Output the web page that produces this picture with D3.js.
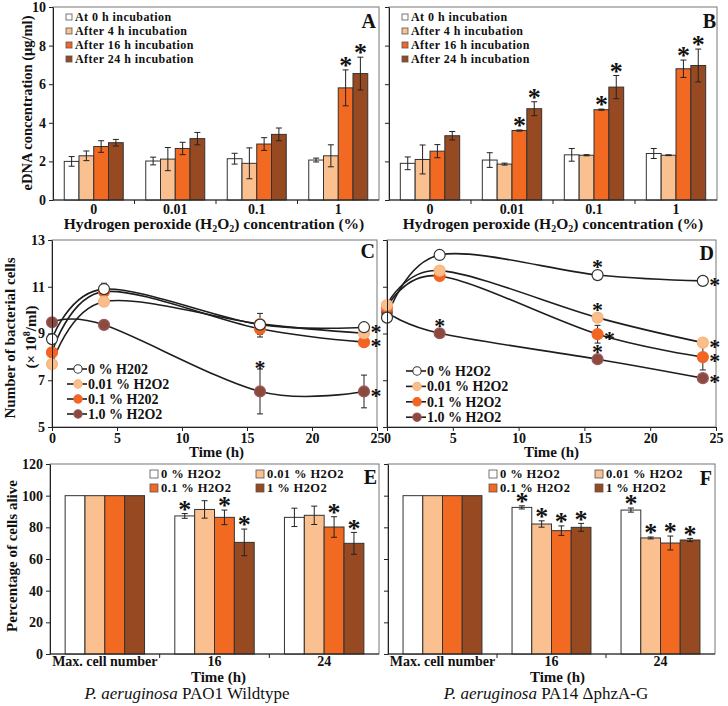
<!DOCTYPE html>
<html><head><meta charset="utf-8">
<script src="https://cdn.jsdelivr.net/npm/d3@7"></script>
<style>
body{margin:0;background:#fff}
svg{display:block}
text{font-family:"Liberation Serif","Times New Roman",serif;font-weight:bold;fill:#111}
</style>
</head><body>
<svg id="c" width="728" height="706"></svg>
<script>
// ---------- DATA ----------
const concCategories = ["0", "0.01", "0.1", "1"];
const incubationSeries = ["At 0 h incubation", "After 4 h incubation", "After 16 h incubation", "After 24 h incubation"];
// Panel A (PAO1) eDNA, rows = incubation series, cols = H2O2 concentration
const eDNA_A = [[2.0, 2.02, 2.14, 2.07], [2.29, 2.12, 1.9, 2.29], [2.77, 2.67, 2.9, 5.81], [2.97, 3.18, 3.4, 6.55]];
const eDNA_A_err = [[0.25, 0.2, 0.28, 0.1], [0.25, 0.6, 0.8, 0.57], [0.3, 0.32, 0.33, 0.93], [0.17, 0.32, 0.33, 0.85]];
const eDNA_A_stars = [[2, 3], [3, 3]];
// Panel B (PA14 ΔphzA-G) eDNA
const eDNA_B = [[1.9, 2.07, 2.34, 2.41], [2.1, 1.86, 2.32, 2.32], [2.53, 3.6, 4.68, 6.8], [3.33, 4.73, 5.85, 6.97]];
const eDNA_B_err = [[0.33, 0.38, 0.33, 0.26], [0.75, 0.05, 0.03, 0.02], [0.34, 0.03, 0.03, 0.45], [0.22, 0.36, 0.6, 0.85]];
const eDNA_B_stars = [[2, 1], [3, 1], [2, 2], [3, 2], [2, 3], [3, 3]];
const eDNA_ticks = [0, 2, 4, 6, 8, 10];

const timePoints = [0, 4, 16, 24];
const growthSeriesC = ["0 % H202", "0.01 % H2O2", "0.1 % H202", "1.0 % H2O2"];
const growthSeriesD = ["0 % H2O2", "0.01 % H2O2", "0.1 % H2O2", "1.0 % H2O2"];
// Panel C (PAO1) cell number ×10^8/ml
const cells_C = [[8.76, 10.9, 9.38, 9.27], [7.69, 10.36, 9.41, 9.01], [8.19, 10.79, 9.2, 8.63], [9.48, 9.37, 6.52, 6.52]];
const cells_C_err = [[0, 0.25, 0, 0], [0, 0.15, 0.45, 0], [0, 0, 0.35, 0], [0, 0, 0.96, 0.7]];
const cells_C_starsAbove = [[3, 2]];
const cells_C_starsRight = [[0, 3], [2, 3], [3, 3]];
// Panel D (PA14 ΔphzA-G)
const cells_D = [[9.68, 12.36, 11.5, 11.25], [10.22, 11.69, 9.68, 8.61], [10.11, 11.46, 8.97, 7.99], [9.9, 9.01, 7.9, 7.09]];
const cells_D_err = [[0, 0, 0, 0], [0, 0, 0, 0], [0, 0, 0.38, 0.55], [0, 0, 0, 0]];
const cells_D_starsAbove = [[3, 1], [0, 2], [1, 2], [3, 2]];
const cells_D_starsRight = [[2, 2], [0, 3], [1, 3], [2, 3], [3, 3]];
const timeTicks = [0, 5, 10, 15, 20, 25];
const cellTicks = [5, 7, 9, 11, 13];

const survivalCategories = ["Max. cell number", "16", "24"];
const survivalSeries = ["0 % H2O2", "0.01 % H2O2", "0.1 % H2O2", "1 % H2O2"];
// Panel E (PAO1 wildtype) % alive
const alive_E = [[100, 87.2, 86.3], [100, 91.3, 87.6], [100, 86.3, 80.2], [100, 70.5, 69.9]];
const alive_E_err = [[0, 1.5, 5.8], [0, 5.5, 5.8], [0, 4.6, 6.5], [0, 8.4, 6.9]];
const alive_E_stars = [[0, 1], [2, 1], [3, 1], [2, 2], [3, 2]];
// Panel F (PA14 ΔphzA-G)
const alive_F = [[100, 92.6, 90.9], [100, 82.1, 73.3], [100, 77.9, 70.1], [100, 80.0, 72.0]];
const alive_F_err = [[0, 1.0, 1.3], [0, 2.0, 0.6], [0, 3.0, 4.4], [0, 2.5, 1.0]];
const alive_F_stars = [[0, 1], [1, 1], [2, 1], [3, 1], [0, 2], [1, 2], [2, 2], [3, 2]];
const aliveTicks = [0, 20, 40, 60, 80, 100, 120];

// ---------- STYLE ----------
const barColors = ["#FFFFFF", "#FAC08F", "#F26A22", "#974A22"];
const markerFill = ["#FFFFFF", "#F9BE8A", "#F26522", "#8C4A3E"];
const markerStroke = ["#333333", "#F6B47F", "#F26522", "#9A5A60"];

const svg = d3.select("#c");

function star(g, cx, cy, fs) {
  fs = fs || 26;
  g.append("text").attr("x", cx).attr("y", cy + 0.47 * fs)
    .attr("text-anchor", "middle").style("font-size", fs + "px").text("*");
}

function styleAxis(sel, fs) {
  sel.select(".domain").attr("stroke", "#222");
  sel.selectAll(".tick line").attr("stroke", "#222");
  sel.selectAll(".tick text").style("font-family", '"Liberation Serif",serif')
    .style("font-weight", "bold").style("font-size", fs + "px").attr("fill", "#111");
}

function frame(g, o) {
  g.append("rect").attr("x", o.left).attr("y", o.top)
    .attr("width", o.right - o.left).attr("height", o.bottom - o.top)
    .attr("fill", "none").attr("stroke", "#777").attr("stroke-width", 1);
}

function letter(g, txt, x, y) {
  g.append("text").attr("x", x).attr("y", y).attr("text-anchor", "end")
    .style("font-size", "20px").text(txt);
}

function barPanel(o) {
  const g = svg.append("g");
  frame(g, o);
  const x = d3.scaleBand().domain(o.cats).range([o.left, o.right]);
  const bw = x.bandwidth();
  const xs = d3.scaleBand().domain(d3.range(o.series.length)).range([bw * 0.138, bw * 0.862]);
  const y = d3.scaleLinear().domain(o.yDomain).range([o.bottom, o.top]);
  const data = [];
  o.values.forEach((vals, s) => vals.forEach((v, c) => data.push({ s, c, v, e: o.errors[s][c] })));
  g.selectAll("rect.bar").data(data).join("rect").attr("class", "bar")
    .attr("x", d => x(o.cats[d.c]) + xs(d.s)).attr("y", d => y(d.v))
    .attr("width", xs.bandwidth()).attr("height", d => y(o.yDomain[0]) - y(d.v))
    .attr("fill", d => barColors[d.s]).attr("stroke", "#333").attr("stroke-width", 1);
  const cxOf = d => x(o.cats[d.c]) + xs(d.s) + xs.bandwidth() / 2;
  const eb = data.filter(d => d.e > 0);
  const eg = g.append("g").attr("stroke", "#222").attr("stroke-width", 1);
  eg.selectAll("line.v").data(eb).join("line")
    .attr("x1", cxOf).attr("x2", cxOf).attr("y1", d => y(d.v - d.e)).attr("y2", d => y(d.v + d.e));
  eg.selectAll("line.t").data(eb.flatMap(d => [d.v - d.e, d.v + d.e].map(val => ({ d, val })))).join("line")
    .attr("x1", q => cxOf(q.d) - 3).attr("x2", q => cxOf(q.d) + 3)
    .attr("y1", q => y(q.val)).attr("y2", q => y(q.val));
  o.stars.forEach(([s, c]) => {
    const d = data.find(q => q.s === s && q.c === c);
    star(g, cxOf(d), y(d.v + d.e) - 8, o.starSize);
  });
  // axes
  const ya = g.append("g").attr("transform", `translate(${o.left},0)`)
    .call(d3.axisLeft(y).tickValues(o.yTicks).tickSize(4).tickSizeOuter(0).tickPadding(3)
      .tickFormat(o.yLabels ? d3.format("d") : ""));
  styleAxis(ya, 14);
  g.append("line").attr("x1", o.left).attr("x2", o.right).attr("y1", o.bottom).attr("y2", o.bottom).attr("stroke", "#222");
  g.selectAll("line.xt").data(o.cats.slice(1)).join("line")
    .attr("x1", c => x(c)).attr("x2", c => x(c)).attr("y1", o.bottom).attr("y2", o.bottom + 4).attr("stroke", "#222");
  g.selectAll("text.xl").data(o.cats).join("text")
    .attr("x", c => x(c) + bw / 2).attr("y", o.xLabelY).attr("text-anchor", "middle")
    .style("font-size", o.xLabelFs + "px").text(c => c);
  // legend
  o.series.forEach((name, s) => {
    const lx = o.legend.x + (o.legend.cols === 2 ? (s % 2) * o.legend.colDx : 0);
    const ly = o.legend.y + (o.legend.cols === 2 ? Math.floor(s / 2) : s) * o.legend.dy;
    g.append("rect").attr("x", lx).attr("y", ly - o.legend.sq / 2).attr("width", o.legend.sq).attr("height", o.legend.sq)
      .attr("fill", barColors[s]).attr("stroke", "#555").attr("stroke-width", 0.8);
    g.append("text").attr("x", lx + o.legend.sq + 3).attr("y", ly + o.legend.fs * 0.35)
      .style("font-size", o.legend.fs + "px").style("letter-spacing", o.legend.ls + "px").text(name);
  });
  return { g, x, y };
}

function linePanel(o) {
  const g = svg.append("g");
  frame(g, o);
  const x = d3.scaleLinear().domain([0, 25]).range([o.left, o.right]);
  const y = d3.scaleLinear().domain([5, 13]).range([o.bottom, o.top]);
  const line = d3.line().x(d => x(d.t)).y(d => y(d.v)).curve(d3.curveCardinal.tension(0));
  const series = o.values.map((vals, s) => vals.map((v, i) => ({ s, t: timePoints[i], v, e: o.errors[s][i] })));
  series.slice().reverse().forEach(pts => {
    g.append("path").attr("d", line(pts)).attr("fill", "none").attr("stroke", "#1e1e1e").attr("stroke-width", 1.6);
  });
  const all = series.flat();
  const eb = all.filter(d => d.e > 0);
  const eg = g.append("g").attr("stroke", "#222").attr("stroke-width", 1);
  eg.selectAll("line.v").data(eb).join("line")
    .attr("x1", d => x(d.t)).attr("x2", d => x(d.t)).attr("y1", d => y(d.v - d.e)).attr("y2", d => y(d.v + d.e));
  eg.selectAll("line.c").data(eb.flatMap(d => [d.v - d.e, d.v + d.e].map(val => ({ d, val })))).join("line")
    .attr("x1", q => x(q.d.t) - 3).attr("x2", q => x(q.d.t) + 3).attr("y1", q => y(q.val)).attr("y2", q => y(q.val));
  [3, 2, 1, 0].forEach(s => {
    g.selectAll(null).data(series[s]).join("circle")
      .attr("cx", d => x(d.t)).attr("cy", d => y(d.v)).attr("r", 5.5)
      .attr("fill", markerFill[s]).attr("stroke", markerStroke[s]).attr("stroke-width", 1.2);
  });
  o.starsAbove.forEach(([s, i]) => {
    const d = series[s][i];
    const top = Math.min(y(d.v) - 11, y(d.v + d.e) - 4);
    star(g, x(d.t), top, 22);
  });
  o.starsRight.forEach(([s, i]) => {
    const d = series[s][i];
    star(g, x(d.t) + 12, y(d.v) + 1, 22);
  });
  const ya = g.append("g").attr("transform", `translate(${o.left},0)`)
    .call(d3.axisLeft(y).tickValues(cellTicks).tickSize(4).tickSizeOuter(0).tickPadding(3)
      .tickFormat(o.yLabels ? d3.format("d") : ""));
  styleAxis(ya, 14);
  const xa = g.append("g").attr("transform", `translate(0,${o.bottom})`)
    .call(d3.axisBottom(x).tickValues(timeTicks).tickSize(4).tickSizeOuter(0).tickPadding(3).tickFormat(d3.format("d")));
  styleAxis(xa, 14);
  xa.selectAll(".tick text").attr("dy", null).attr("y", 16);
  // legend
  o.names.forEach((name, s) => {
    const ly = o.legend.y + s * o.legend.dy;
    g.append("line").attr("x1", o.legend.x).attr("x2", o.legend.x + 20).attr("y1", ly).attr("y2", ly)
      .attr("stroke", "#1e1e1e").attr("stroke-width", 1.6);
    g.append("circle").attr("cx", o.legend.x + 11).attr("cy", ly).attr("r", 4.2)
      .attr("fill", markerFill[s]).attr("stroke", markerStroke[s]).attr("stroke-width", 1.1);
    g.append("text").attr("x", o.legend.x + 21).attr("y", ly + 4.8)
      .style("font-size", "14px").text(name);
  });
  return { g, x, y };
}

// ---------- PANELS ----------
const pA = { left: 53, right: 379, top: 7, bottom: 200 };
const pB = { left: 389, right: 717, top: 7, bottom: 200 };
const pC = { left: 52, right: 377, top: 240, bottom: 427 };
const pD = { left: 387, right: 716, top: 240, bottom: 427 };
const pE = { left: 50, right: 379, top: 464, bottom: 654 };
const pF = { left: 388, right: 715, top: 464, bottom: 654 };

const legAB = { cols: 1, dy: 14, sq: 6, fs: 12, ls: 0.45 };
const A = barPanel(Object.assign({}, pA, {
  cats: concCategories, series: incubationSeries, values: eDNA_A, errors: eDNA_A_err, stars: eDNA_A_stars,
  yDomain: [0, 10], yTicks: eDNA_ticks, yLabels: true, xLabelY: 214, xLabelFs: 14, starSize: 26,
  legend: Object.assign({ x: 66, y: 17 }, legAB)
}));
letter(A.g, "A", 376, 28);
const B = barPanel(Object.assign({}, pB, {
  cats: concCategories, series: incubationSeries, values: eDNA_B, errors: eDNA_B_err, stars: eDNA_B_stars,
  yDomain: [0, 10], yTicks: eDNA_ticks, yLabels: false, xLabelY: 214, xLabelFs: 14, starSize: 26,
  legend: Object.assign({ x: 402, y: 17 }, legAB)
}));
letter(B.g, "B", 716, 28);

function h2o2Title(x, y) {
  const t = svg.append("text").attr("x", x).attr("y", y).attr("text-anchor", "middle").style("font-size", "15.5px");
  t.append("tspan").text("Hydrogen peroxide (H");
  t.append("tspan").attr("dy", 3).style("font-size", "10px").text("2");
  t.append("tspan").attr("dy", -3).text("O");
  t.append("tspan").attr("dy", 3).style("font-size", "10px").text("2");
  t.append("tspan").attr("dy", -3).text(") concentration  (%)");
}
h2o2Title((pA.left + pA.right) / 2 - 2, 229);
h2o2Title((pB.left + pB.right) / 2, 229);

svg.append("text").attr("transform", "translate(27,103) rotate(-90)").attr("text-anchor", "middle")
  .attr("dominant-baseline", "central").style("font-size", "14.5px").text("eDNA concentration (μg/ml)");

const C = linePanel(Object.assign({}, pC, {
  values: cells_C, errors: cells_C_err, starsAbove: cells_C_starsAbove, starsRight: cells_C_starsRight,
  yLabels: true, names: growthSeriesC, legend: { x: 67, y: 369, dy: 15 }
}));
letter(C.g, "C", 375, 258);
const D = linePanel(Object.assign({}, pD, {
  values: cells_D, errors: cells_D_err, starsAbove: cells_D_starsAbove, starsRight: cells_D_starsRight,
  yLabels: false, names: growthSeriesD, legend: { x: 406, y: 371, dy: 15.4 }
}));
letter(D.g, "D", 714, 260);

svg.append("text").attr("x", (pC.left + pC.right) / 2 + 2).attr("y", 457).attr("text-anchor", "middle").style("font-size", "15px").text("Time (h)");
svg.append("text").attr("x", (pD.left + pD.right) / 2).attr("y", 457).attr("text-anchor", "middle").style("font-size", "15px").text("Time (h)");
svg.append("text").attr("transform", "translate(10,338) rotate(-90)").attr("text-anchor", "middle")
  .attr("dominant-baseline", "central").style("font-size", "15px").text("Number of bacterial cells");
const yl2 = svg.append("text").attr("transform", "translate(31,337) rotate(-90)").attr("text-anchor", "middle")
  .attr("dominant-baseline", "central").style("font-size", "15px");
yl2.append("tspan").text("(× 10");
yl2.append("tspan").attr("dy", -5).style("font-size", "10px").text("8");
yl2.append("tspan").attr("dy", 5).text("/ml)");

const legEF = { cols: 2, dy: 14, sq: 8, fs: 12.5, ls: 0.4, colDx: 106 };
const E = barPanel(Object.assign({}, pE, {
  cats: survivalCategories, series: survivalSeries, values: alive_E, errors: alive_E_err, stars: alive_E_stars,
  yDomain: [0, 120], yTicks: aliveTicks, yLabels: true, xLabelY: 666, xLabelFs: 14, starSize: 26,
  legend: Object.assign({ x: 150, y: 474 }, legEF)
}));
letter(E.g, "E", 377, 484);
const F = barPanel(Object.assign({}, pF, {
  cats: survivalCategories, series: survivalSeries, values: alive_F, errors: alive_F_err, stars: alive_F_stars,
  yDomain: [0, 120], yTicks: aliveTicks, yLabels: false, xLabelY: 666, xLabelFs: 14, starSize: 26,
  legend: Object.assign({ x: 489, y: 474 }, legEF)
}));
letter(F.g, "F", 712, 485);

svg.append("text").attr("x", (pE.left + pE.right) / 2 + 4).attr("y", 682).attr("text-anchor", "middle").style("font-size", "15px").text("Time (h)");
svg.append("text").attr("x", (pF.left + pF.right) / 2 + 6).attr("y", 682).attr("text-anchor", "middle").style("font-size", "15px").text("Time (h)");
svg.append("text").attr("transform", "translate(12,556) rotate(-90)").attr("text-anchor", "middle")
  .attr("dominant-baseline", "central").style("font-size", "15px").text("Percentage of cells alive");

function strainLabel(x, name) {
  const t = svg.append("text").attr("x", x).attr("y", 699).attr("text-anchor", "middle").style("font-size", "17px").style("font-weight", "normal");
  t.append("tspan").style("font-style", "italic").text("P. aeruginosa");
  t.append("tspan").text(" " + name);
}
strainLabel(187, "PAO1 Wildtype");
strainLabel(546, "PA14 \u0394phzA-G");
</script>
</body></html>
